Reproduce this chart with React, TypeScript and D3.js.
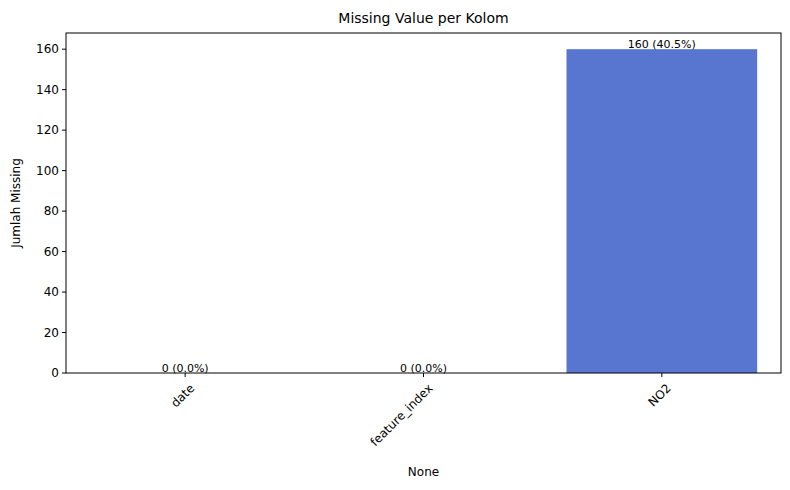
import React from "react";
import * as d3 from "d3";

const categories = ["date", "feature_index", "NO2"];
const missing = [0, 0, 160];
const labels = ["0 (0.0%)", "0 (0.0%)", "160 (40.5%)"];
const yTicks = [0, 20, 40, 60, 80, 100, 120, 140, 160];

export default function App() {
  const W = 790, H = 490;
  const m = { l: 66, r: 781, t: 33, b: 373 };
  const x = d3.scaleBand<string>().domain(categories).range([m.l, m.r]).paddingInner(0.2).paddingOuter(0.1);
  const y = d3.scaleLinear().domain([0, 168]).range([m.b, m.t]);
  const font = "DejaVu Sans, sans-serif";
  return (
    <svg width={W} height={H} style={{ position: "absolute", left: 0, top: 0, background: "#fff" }} fontFamily={font}>
      {categories.map((c, i) => (
        <g key={c}>
          <rect x={x(c)} y={y(missing[i])} width={x.bandwidth()} height={m.b - y(missing[i])} fill="#5875cf" />
          <text x={x(c)! + x.bandwidth() / 2} y={y(missing[i]) - 1} textAnchor="middle" fontSize={11}>{labels[i]}</text>
        </g>
      ))}
      <rect x={m.l} y={m.t} width={m.r - m.l} height={m.b - m.t} fill="none" stroke="#000" strokeWidth={1} />
      {yTicks.map(t => (
        <g key={t}>
          <line x1={m.l - 4} x2={m.l} y1={y(t)} y2={y(t)} stroke="#000" />
          <text x={m.l - 7} y={y(t)} dy="0.35em" textAnchor="end" fontSize={12}>{t}</text>
        </g>
      ))}
      {categories.map(c => {
        const cx = x(c)! + x.bandwidth() / 2;
        return (
          <g key={c}>
            <line x1={cx} x2={cx} y1={m.b} y2={m.b + 4} stroke="#000" />
            <text transform={`translate(${cx + 4},${m.b + 10}) rotate(-45)`} textAnchor="end" dy="0.7em" fontSize={12}>{c}</text>
          </g>
        );
      })}
      <text x={(m.l + m.r) / 2} y={476} textAnchor="middle" fontSize={12}>None</text>
      <text transform={`translate(20,${(m.t + m.b) / 2}) rotate(-90)`} textAnchor="middle" fontSize={12}>Jumlah Missing</text>
      <text x={(m.l + m.r) / 2} y={23} textAnchor="middle" fontSize={14}>Missing Value per Kolom</text>
    </svg>
  );
}
